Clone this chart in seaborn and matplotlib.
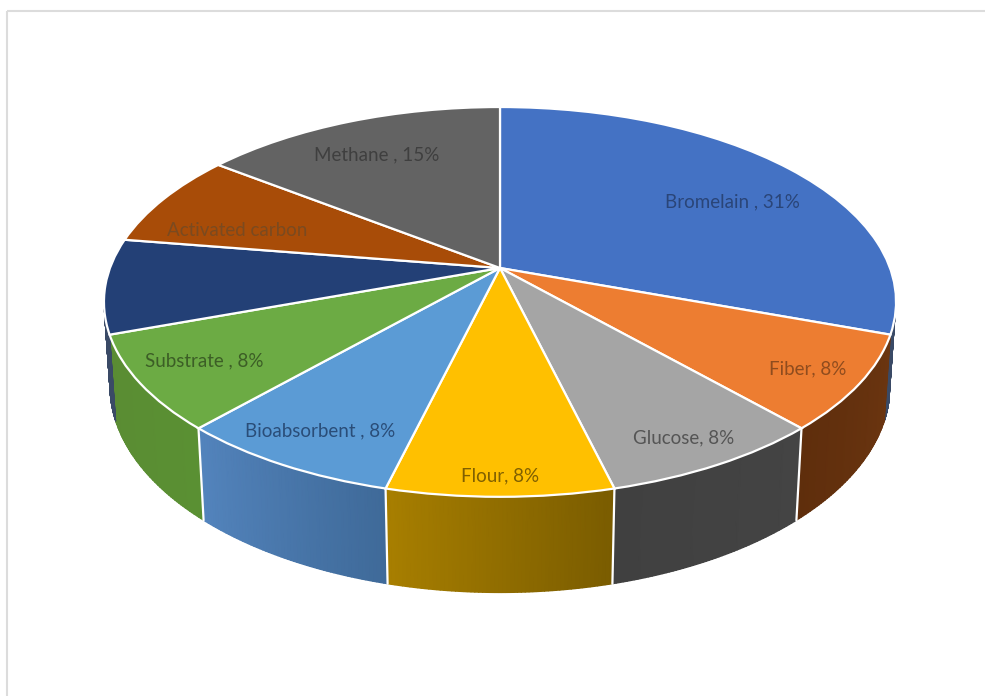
import matplotlib
matplotlib.use("Agg")
import matplotlib.pyplot as plt
from matplotlib.transforms import Transform
from matplotlib.colors import LinearSegmentedColormap
from matplotlib.patches import Rectangle
import numpy as np
import seaborn as sns

# Share of each product
categories = ["Bromelain", "Fiber", "Glucose", "Flour", "Bioabsorbent",
              "Substrate", "Ethanol", "Activated carbon", "Methane"]
values = [31, 8, 8, 8, 8, 8, 8, 8, 15]
label_texts = ["Bromelain , 31%", "Fiber, 8%", "Glucose, 8%", "Flour, 8%",
               "Bioabsorbent , 8%", "Substrate , 8%", "", "Activated carbon",
               "Methane , 15%"]

top_colors = ["#4472c4", "#ed7d31", "#a5a5a5", "#ffc000", "#5b9bd5",
              "#6cab44", "#234076", "#a84c08", "#636363"]
wall_start = ["#3a4a66", "#6b3510", "#444444", "#7a5c00", "#3f6a99",
              "#5a9033", "#3a4a66", "#7a370a", "#4a4a4a"]
wall_end = ["#3a4a66", "#5f2e0c", "#404040", "#a87f00", "#5384bd",
            "#5a8c33", "#3a4a66", "#7a370a", "#4a4a4a"]
label_centres = [(732, 202), (808, 369), (684, 438), (500, 476), (320, 431),
                 (204, 361), (190, 285), (237, 231), (377, 155)]
label_colors = ["#2a4578", "#8f4c1e", "#555555", "#806000", "#2a4d78",
                "#3c5e26", "#1d3560", "#7a4a20", "#3f3f3f"]

CX, CY = 500.0, 268.0
RX, RY = 390.0, 189.0
TILT = 0.174
DEPTH = 84.0
DEPTH_W = 0.015
WALL_FROM, WALL_TO = np.radians(104), np.radians(258)


class TiltedDisc(Transform):
    """Perspective view of the pie's unit disc, output in pixel-like data units."""
    input_dims = 2
    output_dims = 2
    is_separable = False
    has_inverse = False

    def transform_non_affine(self, values):
        xy = np.asarray(values, dtype=float)
        w = 1 + TILT * xy[:, 1]
        return np.column_stack((CX + RX * xy[:, 0] / w, CY - RY * xy[:, 1] / w))


def rim(theta, lower=False):
    """Top or bottom rim points for clockwise bearings measured from twelve o'clock."""
    x, y = np.sin(theta), np.cos(theta)
    w = 1 + TILT * y + (DEPTH_W if lower else 0)
    return (CX + RX * x / w,
            CY + (-RY * y + (DEPTH if lower else 0)) / w)


sns.set_theme(style="white")
plt.rcParams["font.family"] = ["Lato", "DejaVu Sans"]

fig = plt.figure(figsize=(9.85, 6.96), dpi=100, facecolor="white")
ax = fig.add_axes([0, 0, 1, 1])

wedges, _ = ax.pie(values, colors=sns.color_palette(top_colors, len(values)),
                   startangle=90, counterclock=False, radius=1,
                   wedgeprops=dict(edgecolor="white", linewidth=1.6, zorder=5))
disc = TiltedDisc() + ax.transData
for wedge in wedges:
    wedge.set_transform(disc)
    wedge.set_clip_on(False)

ax.set_aspect("auto")
ax.set_xlim(0, 985)
ax.set_ylim(696, 0)
ax.axis("off")

# Side wall as one smooth mesh per slice, shaded along the slice
edges = np.cumsum([0] + values) / sum(values) * 2 * np.pi
for i in range(len(values)):
    a = max(edges[i], WALL_FROM)
    b = min(edges[i + 1], WALL_TO)
    if b <= a:
        continue
    ticks = np.linspace(a, b, 60)
    xt, yt = rim(ticks)
    xb, yb = rim(ticks, lower=True)
    shade = np.linspace(0, 1, ticks.size)
    cmap = LinearSegmentedColormap.from_list(f"wall{i}", [wall_start[i], wall_end[i]])
    ax.pcolormesh(np.vstack((xt, xb)), np.vstack((yt, yb)),
                  np.vstack((shade, shade)), cmap=cmap, vmin=0, vmax=1,
                  shading="gouraud", zorder=2)

# White seams where the slices meet on the wall
for theta in edges[1:7]:
    xt, yt = rim(theta)
    xb, yb = rim(theta, lower=True)
    if np.radians(120) < theta < np.radians(240):
        ax.plot([xt, xb], [yt, yb], color="white", lw=1.6, zorder=3)

for text, (x, y), col in zip(label_texts, label_centres, label_colors):
    if text:
        ax.text(x, y, text, ha="center", va="center", fontsize=13.5,
                color=col, zorder=6)

# Thin frame along the top and left of the chart area
ax.add_patch(Rectangle((7, 11), 1200, 900, fill=False, ec="#dcdcdc", lw=1.5,
                       zorder=1, clip_on=True))

fig.savefig("out.png", dpi=100, facecolor="white")
